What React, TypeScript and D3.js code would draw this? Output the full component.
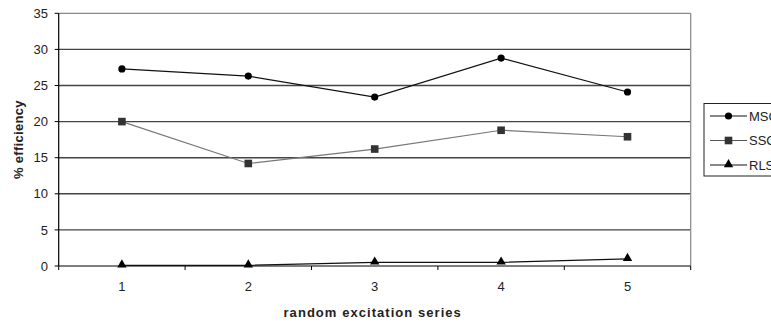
import React from "react";
import * as d3 from "d3";

const categories = ["1", "2", "3", "4", "5"];
const msc = [27.3, 26.3, 23.4, 28.8, 24.1];
const ssc = [20.0, 14.2, 16.2, 18.8, 17.9];
const rls = [0.1, 0.1, 0.5, 0.5, 1.0];
const yTicks = [0, 5, 10, 15, 20, 25, 30, 35];
const seriesNames = ["MSC", "SSC", "RLS"];

const W = 771, H = 323;
const left = 58.7, right = 690.7, top = 13.3, bottom = 266;

export default function App() {
  const x = d3.scaleBand().domain(categories).range([left, right]).padding(0);
  const y = d3.scaleLinear().domain([0, 35]).range([bottom, top]);
  const cx = (c: string) => (x(c) as number) + x.bandwidth() / 2;
  const line = d3.line<number>().x((_, i) => cx(categories[i])).y((d) => y(d));
  const font = "Arial, 'Liberation Sans', sans-serif";
  const tri = d3.symbol().type(d3.symbolTriangle).size(38)() as string;

  const marker = (k: number, px: number, py: number, key: string) => {
    if (k === 0) return <circle key={key} cx={px} cy={py} r={3.6} fill="#000" />;
    if (k === 1) return <rect key={key} x={px - 3.8} y={py - 3.8} width={7.6} height={7.6} fill="#333" />;
    return <path key={key} d={tri} transform={`translate(${px},${py - 0.5})`} fill="#000" />;
  };
  const data = [msc, ssc, rls];
  const colors = ["#111", "#777", "#111"];

  const boundaries = d3.range(categories.length + 1).map((i) => left + i * x.bandwidth());

  return (
    <svg width={W} height={H} style={{ position: "absolute", left: 0, top: 0 }} fontFamily={font}>
      <rect width={W} height={H} fill="#fff" />
      {yTicks.filter((t) => t > 0 && t < 35).map((t) => (
        <line key={t} x1={left} x2={right} y1={y(t)} y2={y(t)} stroke="#444" strokeWidth={1.4} />
      ))}
      {/* plot border top and right */}
      <line x1={left} x2={right} y1={y(35)} y2={y(35)} stroke="#888" strokeWidth={1.2} />
      <line x1={right} x2={right} y1={y(35)} y2={bottom} stroke="#888" strokeWidth={1.2} />
      {/* y axis */}
      <line x1={left} x2={left} y1={top} y2={bottom} stroke="#000" strokeWidth={1.2} />
      {yTicks.map((t) => (
        <g key={t}>
          <line x1={left - 4} x2={left} y1={y(t)} y2={y(t)} stroke="#000" />
          <text x={48} y={y(t)} dy="0.36em" textAnchor="end" fontSize={13} fill="#222">{t}</text>
        </g>
      ))}
      {/* x axis */}
      <line x1={left} x2={right} y1={bottom} y2={bottom} stroke="#000" strokeWidth={1.2} />
      {boundaries.map((b, i) => (
        <line key={i} x1={b} x2={b} y1={bottom} y2={bottom + 4} stroke="#000" />
      ))}
      {categories.map((c) => (
        <text key={c} x={cx(c)} y={290.5} textAnchor="middle" fontSize={13} fill="#222">{c}</text>
      ))}
      {data.map((s, k) => (
        <g key={k}>
          <path d={line(s) as string} fill="none" stroke={colors[k]} strokeWidth={1.2} />
          {s.map((v, i) => marker(k, cx(categories[i]), y(v), `${k}-${i}`))}
        </g>
      ))}
      <text x={(left + right) / 2 - 2} y={317} textAnchor="middle" fontSize={13} fontWeight="bold" letterSpacing={1.05} fill="#222">random excitation series</text>
      <text transform={`translate(23,${(top + bottom) / 2}) rotate(-90)`} textAnchor="middle" fontSize={13} fontWeight="bold" letterSpacing={0.3} fill="#222">% efficiency</text>
      {/* legend */}
      <rect x={704} y={103.5} width={80} height={72.5} fill="#fff" stroke="#222" strokeWidth={1} />
      {seriesNames.map((n, k) => {
        const ly = 116 + k * 24.5;
        return (
          <g key={n}>
            <line x1={710} x2={747} y1={ly} y2={ly} stroke={colors[k] === "#777" ? "#555" : "#111"} strokeWidth={1.2} />
            {marker(k, 728.5, ly, "lg" + k)}
            <text x={749} y={ly} dy="0.36em" fontSize={13} fill="#222">{n}</text>
          </g>
        );
      })}
    </svg>
  );
}
